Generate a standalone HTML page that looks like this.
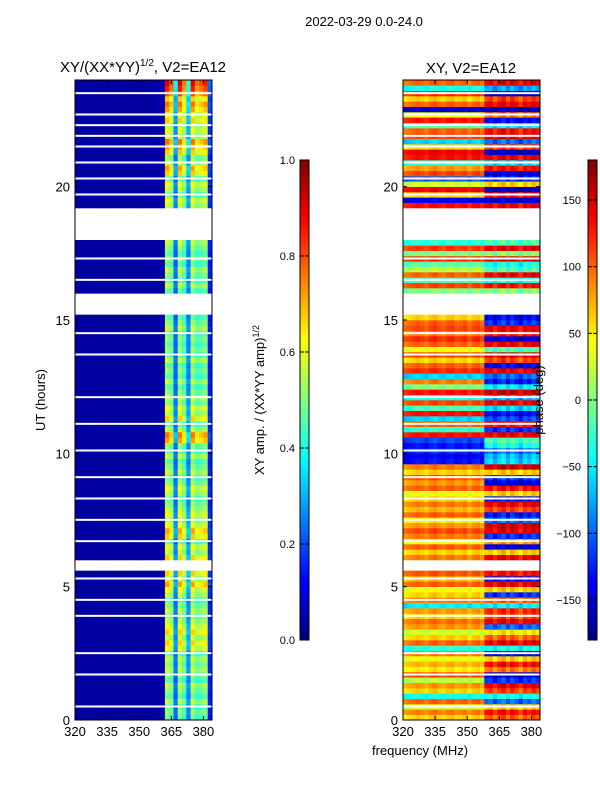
<!DOCTYPE html>
<html><head><meta charset="utf-8"><style>
body{margin:0;background:#fff;}
svg text{font-family:"Liberation Sans","DejaVu Sans",sans-serif;fill:#000;}
</style></head><body>
<svg id="fig" width="600" height="800" viewBox="0 0 600 800" xmlns="http://www.w3.org/2000/svg">
<text x="364" y="26" font-size="13" text-anchor="middle">2022-03-29 0.0-24.0</text>
<text x="143" y="72" font-size="15" text-anchor="middle">XY/(XX*YY)<tspan font-size="10" dy="-6">1/2</tspan><tspan dy="6">, V2=EA12</tspan></text>
<text x="471" y="73" font-size="15" text-anchor="middle">XY, V2=EA12</text>
<text x="45" y="400" font-size="13" text-anchor="middle" transform="rotate(-90 45 400)">UT (hours)</text>
<text x="420" y="755" font-size="13" text-anchor="middle">frequency (MHz)</text>
<text x="264" y="400" font-size="13" text-anchor="middle" transform="rotate(-90 264 400)">XY amp. / (XX*YY amp)<tspan font-size="9" dy="-5">1/2</tspan></text>
<g id="left"></g>
<g id="right"></g>
<g id="axes"></g>
<text x="543" y="400" font-size="13" text-anchor="middle" transform="rotate(-90 543 400)">phase (deg)</text>
</svg>
<script>
const freqTicks=[320,335,350,365,380];
const utTicks=[0,5,10,15,20];
const ampTicks=[0.0,0.2,0.4,0.6,0.8,1.0];
const phaseTicks=[-150,-100,-50,0,50,100,150];
const freqBins=[320,322,324,326,328,330,332,334,336,338,340,342,344,346,348,350,352,354,356,358,360,362,364,366,368,370,372,374,376,378,380,382];
const colProfile=[0.03,0.03,0.03,0.03,0.03,0.03,0.03,0.03,0.03,0.03,0.03,0.03,0.03,0.03,0.03,0.03,0.03,0.03,0.04,0.04,0.05,0.95,0.85,0.4,0.95,0.8,0.45,0.95,0.8,0.85,0.9,0.25];
const colPhaseOff=[-10,-5,0,5,0,-8,4,10,0,-6,5,8,-4,0,6,-10,3,8,-5,0,10,-15,5,20,-10,15,0,-20,10,-5,15,0];
// 1 = data, 2 = data with thin white line, 0 = no data
const rowValid=[1,1,2,1,1,1,1,1,2,1, 1,1,2,1,1,1,1,1,1,2, 1,1,2,1,1,1,2,1,0,0, 1,1,1,2,1,1,1,2,1,1,
1,2,1,1,1,2,1,1,1,1, 2,1,1,1,1,2,1,1,1,1, 2,1,1,1,1,1,1,1,2,1, 1,1,2,1,1,1,0,0,0,0,
1,1,2,1,1,1,2,1,1,1, 0,0,0,0,0,0,1,1,2,1, 1,2,1,1,2,1,1,2,1,2, 1,2,1,2,1,1,1,2,1,1];
const rowAmp=[0.5,0.55,0.5,0.6,0.5,0.55,0.6,0.5,0.55,0.6, 0.55,0.6,0.5,0.65,0.7,0.6,0.7,0.65,0.6,0.55, 0.6,0.55,0.5,0.6,0.65,0.75,0.6,0.7,0.5,0.5,
0.7,0.6,0.65,0.5,0.7,0.75,0.65,0.6,0.65,0.6, 0.55,0.5,0.6,0.65,0.55,0.5,0.6,0.55,0.5,0.6, 0.5,0.55,0.75,0.8,0.6,0.5,0.7,0.6,0.65,0.55,
0.6,0.55,0.5,0.6,0.5,0.55,0.5,0.6,0.5,0.55, 0.5,0.55,0.5,0.6,0.55,0.5,0.5,0.5,0.5,0.5, 0.5,0.6,0.5,0.55,0.6,0.5,0.55,0.5,0.55,0.6,
0.5,0.5,0.5,0.5,0.5,0.5,0.6,0.65,0.5,0.6, 0.65,0.5,0.7,0.75,0.6,0.55,0.7,0.75,0.8,0.6, 0.65,0.6,0.7,0.65,0.75,0.8,0.7,0.85,0.9,0.95];
const rowPhaseLow=[60,90,30,100,-40,60,80,20,110,50, 70,40,90,-30,100,60,30,80,95,60, 80,-50,90,60,40,100,70,105,80,80,
90,60,100,40,90,110,80,50,100,70, 90,60,40,100,80,105,60,90,-130,-140, -120,-130,-110,130,-30,100,-60,130,-20,110,
-40,130,0,90,-60,120,100,60,110,40, 100,120,90,110,100,60,0,0,0,0, 0,110,-20,100,20,-10,120,0,115,-30,
0,0,0,0,0,0,130,-140,60,140, 30,-100,110,80,-30,130,140,60,-60,110, 100,-20,130,40,-150,100,60,120,-40,100];
const rowPhaseHigh=[100,130,60,-100,-40,110,140,-120,-150,90, 130,60,-140,-40,140,100,50,-100,140,110, 120,-50,100,-120,60,140,-130,130,150,150,
140,60,-150,80,-120,140,150,-100,-130,110, 140,-130,60,130,-150,-120,60,150,-60,-70, -100,-40,-20,140,-120,130,-110,-140,-60,140,
-80,150,-50,-130,-100,140,-140,110,140,-20, 140,-150,130,140,-120,-140,0,0,0,0, 0,130,-40,140,-20,-40,140,0,140,-20,
0,0,0,0,0,0,140,-150,130,-160, 60,-120,-150,130,-60,140,-160,110,-100,140, 130,-60,-140,90,-160,140,110,-160,-80,140];

const NS="http://www.w3.org/2000/svg";
function mk(tag,attrs,parent){const e=document.createElementNS(NS,tag);for(const k in attrs)e.setAttribute(k,attrs[k]);parent.appendChild(e);return e;}
function jet(v){v=Math.max(0,Math.min(1,v));const c=x=>Math.round(255*Math.max(0,Math.min(1,1.5-Math.abs(4*v-x))));return `rgb(${c(3)},${c(2)},${c(1)})`;}
const PT=80,PB=720;
const yOf=h=>PB-(h/24)*(PB-PT);
function xL(f){return 75+(f-320)*(137/64);}
function xR(f){return 403+(f-320)*(137/64);}
function wrap(p){while(p>180)p-=360;while(p<-180)p+=360;return p;}
const L=document.getElementById('left'),R=document.getElementById('right'),A=document.getElementById('axes');
for(let r=0;r<rowValid.length;r++){
  if(!rowValid[r])continue;
  const y0=yOf((r+1)*0.2),y1=yOf(r*0.2);
  for(let c=0;c<freqBins.length;c++){
    const f=freqBins[c];
    const v=0.03+(colProfile[c]-0.03)*rowAmp[r];
    const a=mk('rect',{x:xL(f),y:y0,width:137/32+0.3,height:y1-y0+0.3,fill:jet(v)},L);
    
    
    const base=f>=358?rowPhaseHigh[r]:rowPhaseLow[r];
    const p=wrap(base+colPhaseOff[c]);
    const b=mk('rect',{x:xR(f),y:y0,width:137/32+0.3,height:y1-y0+0.3,fill:jet((p+180)/360)},R);
    
    
  }
  if(rowValid[r]===2){
    [75,403].forEach(x0=>{
      const w=mk('rect',{x:x0,y:y0+1.5,width:137,height:2,fill:'#fff'},x0===75?L:R);
      
      
    });
  }
}
[[75,'left'],[403,'right']].forEach(([x0,nm])=>{
  const fr=mk('rect',{x:x0,y:PT,width:137,height:PB-PT,fill:'none',stroke:'#000','stroke-width':1},A);
  
  
  const xf=nm==='left'?xL:xR;
  freqTicks.forEach(f=>{
    const x=xf(f);
    mk('line',{x1:x,x2:x,y1:PB,y2:PB-4,stroke:'#000'},A);
    mk('line',{x1:x,x2:x,y1:PT,y2:PT+4,stroke:'#000'},A);
    const t=mk('text',{x:x,y:PB+16,'font-size':13,'text-anchor':'middle'},A);t.textContent=f;
    
    
  });
  utTicks.forEach(h=>{
    const y=yOf(h);
    mk('line',{x1:x0,x2:x0+4,y1:y,y2:y,stroke:'#000'},A);
    mk('line',{x1:x0+133,x2:x0+137,y1:y,y2:y,stroke:'#000'},A);
    const t=mk('text',{x:x0-5,y:y+5,'font-size':13,'text-anchor':'end'},A);t.textContent=h;
    
    
  });
});
function colorbar(x0,ticks,lo,hi,fmt,nm){
  const g=mk('g',{},A);
  
  
  const N=96,T=160,B=640;
  for(let i=0;i<N;i++){mk('rect',{x:x0,y:B-(i+1)*(B-T)/N,width:9,height:(B-T)/N+0.5,fill:jet((i+0.5)/N)},g);}
  mk('rect',{x:x0,y:T,width:9,height:B-T,fill:'none',stroke:'#000'},g);
  ticks.forEach(v=>{
    const y=B-(v-lo)/(hi-lo)*(B-T);
    mk('line',{x1:x0+9,x2:x0+5,y1:y,y2:y,stroke:'#000'},g);
    mk('line',{x1:x0,x2:x0+4,y1:y,y2:y,stroke:'#000'},g);
    const t=mk('text',{x:nm==='amp-colorbar'?x0-5:x0-7,y:y+4,'font-size':11,'text-anchor':'end'},g);t.textContent=fmt(v);
    
    
  });
}
colorbar(300,ampTicks,0,1,v=>v.toFixed(1),'amp-colorbar');
colorbar(588,phaseTicks,-180,180,v=>v<0?'\u2212'+(-v):String(v),'phase-colorbar');
</script>
</body></html>
